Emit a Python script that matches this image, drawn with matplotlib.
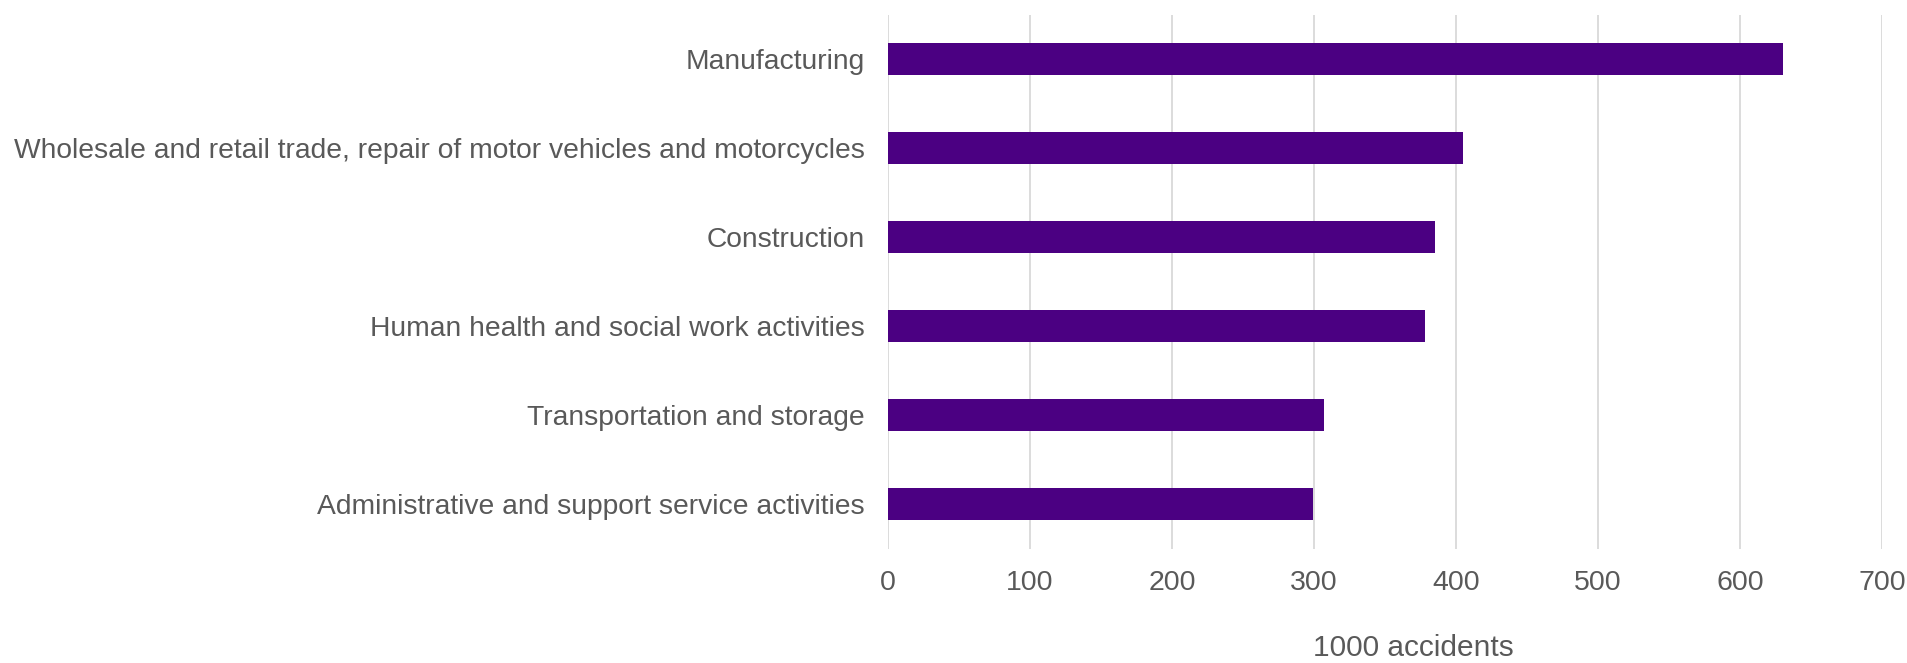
import matplotlib
matplotlib.use('Agg')
import matplotlib.pyplot as plt

sectors = ['Manufacturing',
           'Wholesale and retail trade, repair of motor vehicles and motorcycles',
           'Construction',
           'Human health and social work activities',
           'Transportation and storage',
           'Administrative and support service activities']
accidents = [630, 405, 385, 378, 307, 299]
xticks = [0, 100, 200, 300, 400, 500, 600, 700]

C_BAR  = '#4B0082'
C_TEXT = '#595959'
C_GRID = '#D9D9D9'

plt.rcParams['font.family'] = ['Liberation Sans', 'DejaVu Sans']

fig = plt.figure(figsize=(19.07, 6.63), dpi=100)
ax = fig.add_axes([0.4657, 0.172, 0.5212, 0.8055])

ypos = list(range(len(sectors)))
ax.barh(ypos, accidents, height=0.36, color=C_BAR, zorder=3)
ax.set_ylim(len(sectors) - 0.5, -0.5)
ax.set_xlim(0, 700)

ax.set_yticks(ypos)
ax.set_yticklabels(sectors, fontsize=20.3, color=C_TEXT)
ax.set_xticks(xticks)
ax.set_xticklabels([str(v) for v in xticks], fontsize=20.5, color=C_TEXT)
ax.tick_params(axis='y', length=0, pad=17)
ax.tick_params(axis='x', length=0, pad=15)

ax.xaxis.grid(True, color=C_GRID, lw=1.3, zorder=0)
ax.set_axisbelow(True)
for sp in ax.spines.values():
    sp.set_visible(False)

fig.text(1413 / 1907, 1 - 648 / 663, '1000 accidents', ha='center', va='center',
         fontsize=21.5, color=C_TEXT)

fig.savefig('out.png', dpi=100)
